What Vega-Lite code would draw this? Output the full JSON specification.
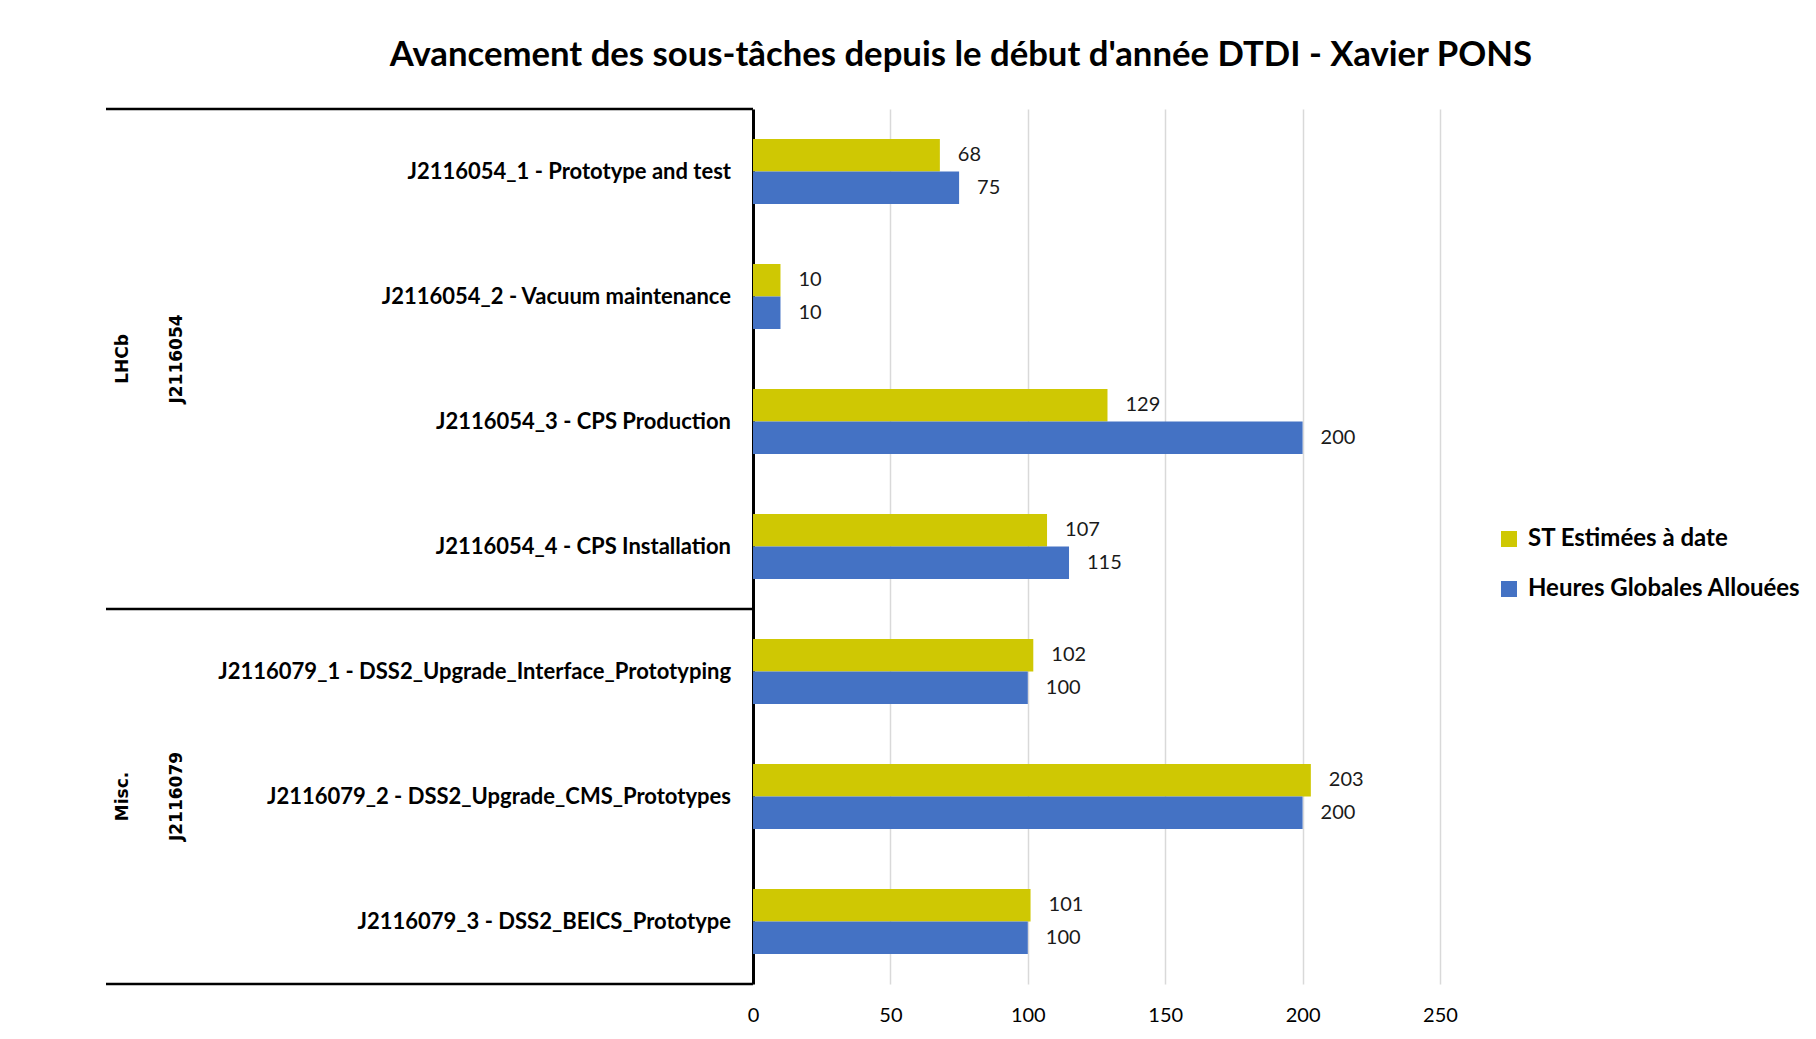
{
  "$schema": "https://vega.github.io/schema/vega-lite/v6.json",
  "padding": {"left": 104, "top": 38, "right": 0, "bottom": 0},
  "bounds": "flush",
  "spacing": 0,
  "title": {
    "text": "Avancement des sous-tâches depuis le début d'année DTDI - Xavier PONS",
    "font": "Lato",
    "fontSize": 34.7,
    "fontWeight": "bold",
    "color": "#000000",
    "anchor": "middle",
    "dx": 8,
    "offset": 34
  },
  "datasets": {
    "barres": [
      {"tache": "J2116054_1 - Prototype and test", "serie": "ST Estimées à date", "heures": 68},
      {"tache": "J2116054_1 - Prototype and test", "serie": "Heures Globales Allouées", "heures": 75},
      {"tache": "J2116054_2 - Vacuum maintenance", "serie": "ST Estimées à date", "heures": 10},
      {"tache": "J2116054_2 - Vacuum maintenance", "serie": "Heures Globales Allouées", "heures": 10},
      {"tache": "J2116054_3 - CPS Production", "serie": "ST Estimées à date", "heures": 129},
      {"tache": "J2116054_3 - CPS Production", "serie": "Heures Globales Allouées", "heures": 200},
      {"tache": "J2116054_4 - CPS Installation", "serie": "ST Estimées à date", "heures": 107},
      {"tache": "J2116054_4 - CPS Installation", "serie": "Heures Globales Allouées", "heures": 115},
      {"tache": "J2116079_1 - DSS2_Upgrade_Interface_Prototyping", "serie": "ST Estimées à date", "heures": 102},
      {"tache": "J2116079_1 - DSS2_Upgrade_Interface_Prototyping", "serie": "Heures Globales Allouées", "heures": 100},
      {"tache": "J2116079_2 - DSS2_Upgrade_CMS_Prototypes", "serie": "ST Estimées à date", "heures": 203},
      {"tache": "J2116079_2 - DSS2_Upgrade_CMS_Prototypes", "serie": "Heures Globales Allouées", "heures": 200},
      {"tache": "J2116079_3 - DSS2_BEICS_Prototype", "serie": "ST Estimées à date", "heures": 101},
      {"tache": "J2116079_3 - DSS2_BEICS_Prototype", "serie": "Heures Globales Allouées", "heures": 100}
    ],
    "taches": [
      {"tache": "J2116054_1 - Prototype and test", "groupe": "LHCb", "projet": "J2116054"},
      {"tache": "J2116054_2 - Vacuum maintenance", "groupe": "LHCb", "projet": "J2116054"},
      {"tache": "J2116054_3 - CPS Production", "groupe": "LHCb", "projet": "J2116054"},
      {"tache": "J2116054_4 - CPS Installation", "groupe": "LHCb", "projet": "J2116054"},
      {"tache": "J2116079_1 - DSS2_Upgrade_Interface_Prototyping", "groupe": "Misc.", "projet": "J2116079"},
      {"tache": "J2116079_2 - DSS2_Upgrade_CMS_Prototypes", "groupe": "Misc.", "projet": "J2116079"},
      {"tache": "J2116079_3 - DSS2_BEICS_Prototype", "groupe": "Misc.", "projet": "J2116079"}
    ]
  },
  "resolve": {"scale": {"y": "shared"}},
  "hconcat": [
    {
      "width": 34,
      "height": 875,
      "data": {"name": "taches"},
      "layer": [
        {
          "transform": [{"filter": {"field": "tache", "oneOf": ["J2116054_1 - Prototype and test"]}}],
          "mark": {"type": "rule", "color": "#000000", "strokeWidth": 2.5},
          "encoding": {"y": {"field": "tache", "type": "nominal", "sort": ["J2116054_1 - Prototype and test", "J2116054_2 - Vacuum maintenance", "J2116054_3 - CPS Production", "J2116054_4 - CPS Installation", "J2116079_1 - DSS2_Upgrade_Interface_Prototyping", "J2116079_2 - DSS2_Upgrade_CMS_Prototypes", "J2116079_3 - DSS2_BEICS_Prototype"], "bandPosition": 0, "axis": null, "scale": {"paddingInner": 0, "paddingOuter": 0}}}
        },
        {
          "transform": [{"filter": {"field": "tache", "oneOf": ["J2116054_4 - CPS Installation", "J2116079_3 - DSS2_BEICS_Prototype"]}}],
          "mark": {"type": "rule", "color": "#000000", "strokeWidth": 2.5},
          "encoding": {"y": {"field": "tache", "type": "nominal", "sort": ["J2116054_1 - Prototype and test", "J2116054_2 - Vacuum maintenance", "J2116054_3 - CPS Production", "J2116054_4 - CPS Installation", "J2116079_1 - DSS2_Upgrade_Interface_Prototyping", "J2116079_2 - DSS2_Upgrade_CMS_Prototypes", "J2116079_3 - DSS2_BEICS_Prototype"], "bandPosition": 1, "axis": null}}
        },
        {
          "transform": [{"filter": {"field": "tache", "oneOf": ["J2116054_2 - Vacuum maintenance"]}}],
          "mark": {"type": "text", "angle": 270, "font": "DejaVu Sans", "fontWeight": "bold", "fontSize": 17, "align": "center", "baseline": "middle", "color": "#000000"},
          "encoding": {"y": {"field": "tache", "type": "nominal", "sort": ["J2116054_1 - Prototype and test", "J2116054_2 - Vacuum maintenance", "J2116054_3 - CPS Production", "J2116054_4 - CPS Installation", "J2116079_1 - DSS2_Upgrade_Interface_Prototyping", "J2116079_2 - DSS2_Upgrade_CMS_Prototypes", "J2116079_3 - DSS2_BEICS_Prototype"], "bandPosition": 1, "axis": null}, "text": {"field": "groupe"}}
        },
        {
          "transform": [{"filter": {"field": "tache", "oneOf": ["J2116079_2 - DSS2_Upgrade_CMS_Prototypes"]}}],
          "mark": {"type": "text", "angle": 270, "font": "DejaVu Sans", "fontWeight": "bold", "fontSize": 17, "align": "center", "baseline": "middle", "color": "#000000"},
          "encoding": {"y": {"field": "tache", "type": "nominal", "sort": ["J2116054_1 - Prototype and test", "J2116054_2 - Vacuum maintenance", "J2116054_3 - CPS Production", "J2116054_4 - CPS Installation", "J2116079_1 - DSS2_Upgrade_Interface_Prototyping", "J2116079_2 - DSS2_Upgrade_CMS_Prototypes", "J2116079_3 - DSS2_BEICS_Prototype"], "bandPosition": 0.5, "axis": null}, "text": {"field": "groupe"}}
        }
      ]
    },
    {
      "width": 74,
      "height": 875,
      "data": {"name": "taches"},
      "layer": [
        {
          "transform": [{"filter": {"field": "tache", "oneOf": ["J2116054_1 - Prototype and test"]}}],
          "mark": {"type": "rule", "color": "#000000", "strokeWidth": 2.5},
          "encoding": {"y": {"field": "tache", "type": "nominal", "sort": ["J2116054_1 - Prototype and test", "J2116054_2 - Vacuum maintenance", "J2116054_3 - CPS Production", "J2116054_4 - CPS Installation", "J2116079_1 - DSS2_Upgrade_Interface_Prototyping", "J2116079_2 - DSS2_Upgrade_CMS_Prototypes", "J2116079_3 - DSS2_BEICS_Prototype"], "bandPosition": 0, "axis": null}}
        },
        {
          "transform": [{"filter": {"field": "tache", "oneOf": ["J2116054_4 - CPS Installation", "J2116079_3 - DSS2_BEICS_Prototype"]}}],
          "mark": {"type": "rule", "color": "#000000", "strokeWidth": 2.5},
          "encoding": {"y": {"field": "tache", "type": "nominal", "sort": ["J2116054_1 - Prototype and test", "J2116054_2 - Vacuum maintenance", "J2116054_3 - CPS Production", "J2116054_4 - CPS Installation", "J2116079_1 - DSS2_Upgrade_Interface_Prototyping", "J2116079_2 - DSS2_Upgrade_CMS_Prototypes", "J2116079_3 - DSS2_BEICS_Prototype"], "bandPosition": 1, "axis": null}}
        },
        {
          "transform": [{"filter": {"field": "tache", "oneOf": ["J2116054_2 - Vacuum maintenance"]}}],
          "mark": {"type": "text", "angle": 270, "font": "DejaVu Sans", "fontWeight": "bold", "fontSize": 17, "align": "center", "baseline": "middle", "color": "#000000"},
          "encoding": {"y": {"field": "tache", "type": "nominal", "sort": ["J2116054_1 - Prototype and test", "J2116054_2 - Vacuum maintenance", "J2116054_3 - CPS Production", "J2116054_4 - CPS Installation", "J2116079_1 - DSS2_Upgrade_Interface_Prototyping", "J2116079_2 - DSS2_Upgrade_CMS_Prototypes", "J2116079_3 - DSS2_BEICS_Prototype"], "bandPosition": 1, "axis": null}, "text": {"field": "projet"}}
        },
        {
          "transform": [{"filter": {"field": "tache", "oneOf": ["J2116079_2 - DSS2_Upgrade_CMS_Prototypes"]}}],
          "mark": {"type": "text", "angle": 270, "font": "DejaVu Sans", "fontWeight": "bold", "fontSize": 17, "align": "center", "baseline": "middle", "color": "#000000"},
          "encoding": {"y": {"field": "tache", "type": "nominal", "sort": ["J2116054_1 - Prototype and test", "J2116054_2 - Vacuum maintenance", "J2116054_3 - CPS Production", "J2116054_4 - CPS Installation", "J2116079_1 - DSS2_Upgrade_Interface_Prototyping", "J2116079_2 - DSS2_Upgrade_CMS_Prototypes", "J2116079_3 - DSS2_BEICS_Prototype"], "bandPosition": 0.5, "axis": null}, "text": {"field": "projet"}}
        }
      ]
    },
    {
      "width": 539,
      "height": 875,
      "data": {"name": "taches"},
      "layer": [
        {
          "transform": [{"filter": {"field": "tache", "oneOf": ["J2116054_1 - Prototype and test"]}}],
          "mark": {"type": "rule", "color": "#000000", "strokeWidth": 2.5},
          "encoding": {"y": {"field": "tache", "type": "nominal", "sort": ["J2116054_1 - Prototype and test", "J2116054_2 - Vacuum maintenance", "J2116054_3 - CPS Production", "J2116054_4 - CPS Installation", "J2116079_1 - DSS2_Upgrade_Interface_Prototyping", "J2116079_2 - DSS2_Upgrade_CMS_Prototypes", "J2116079_3 - DSS2_BEICS_Prototype"], "bandPosition": 0, "axis": null}}
        },
        {
          "transform": [{"filter": {"field": "tache", "oneOf": ["J2116054_4 - CPS Installation", "J2116079_3 - DSS2_BEICS_Prototype"]}}],
          "mark": {"type": "rule", "color": "#000000", "strokeWidth": 2.5},
          "encoding": {"y": {"field": "tache", "type": "nominal", "sort": ["J2116054_1 - Prototype and test", "J2116054_2 - Vacuum maintenance", "J2116054_3 - CPS Production", "J2116054_4 - CPS Installation", "J2116079_1 - DSS2_Upgrade_Interface_Prototyping", "J2116079_2 - DSS2_Upgrade_CMS_Prototypes", "J2116079_3 - DSS2_BEICS_Prototype"], "bandPosition": 1, "axis": null}}
        },
        {
          "mark": {"type": "text", "font": "Lato", "fontWeight": "bold", "fontSize": 22, "align": "right", "baseline": "middle", "dx": -22, "color": "#000000"},
          "encoding": {"y": {"field": "tache", "type": "nominal", "sort": ["J2116054_1 - Prototype and test", "J2116054_2 - Vacuum maintenance", "J2116054_3 - CPS Production", "J2116054_4 - CPS Installation", "J2116079_1 - DSS2_Upgrade_Interface_Prototyping", "J2116079_2 - DSS2_Upgrade_CMS_Prototypes", "J2116079_3 - DSS2_BEICS_Prototype"], "axis": null}, "x": {"value": "width"}, "text": {"field": "tache"}}
        }
      ]
    },
    {
      "width": 687,
      "height": 875,
      "data": {"name": "barres"},
      "encoding": {
        "y": {"field": "tache", "type": "nominal", "sort": ["J2116054_1 - Prototype and test", "J2116054_2 - Vacuum maintenance", "J2116054_3 - CPS Production", "J2116054_4 - CPS Installation", "J2116079_1 - DSS2_Upgrade_Interface_Prototyping", "J2116079_2 - DSS2_Upgrade_CMS_Prototypes", "J2116079_3 - DSS2_BEICS_Prototype"], "axis": {"labels": false, "ticks": false, "title": null, "domain": true, "domainColor": "#000000", "domainWidth": 3}},
        "yOffset": {"field": "serie", "type": "nominal", "sort": ["ST Estimées à date", "Heures Globales Allouées"], "scale": {"paddingInner": 0, "paddingOuter": 0.923}},
        "x": {"field": "heures", "type": "quantitative", "scale": {"domain": [0, 250], "nice": false}, "axis": {"title": null, "values": [0, 50, 100, 150, 200, 250], "domain": false, "ticks": false, "grid": true, "gridColor": "#d9d9d9", "gridWidth": 1.5, "labelFlush": false, "labelFont": "Lato", "labelFontSize": 20, "labelColor": "#000000", "labelPadding": 21}}
      },
      "layer": [
        {
          "mark": {"type": "bar"},
          "encoding": {
            "color": {"field": "serie", "type": "nominal", "sort": ["ST Estimées à date", "Heures Globales Allouées"], "scale": {"domain": ["ST Estimées à date", "Heures Globales Allouées"], "range": ["#cfc803", "#4472c4"]},
              "legend": {"title": null, "orient": "none", "legendX": 1391, "legendY": 418, "symbolType": "square", "symbolSize": 256, "symbolStrokeWidth": 0, "labelFont": "Lato", "labelFontWeight": "bold", "labelFontSize": 24, "labelLimit": 0, "labelColor": "#000000", "labelOffset": 7, "rowPadding": 26, "padding": 0}}
          }
        },
        {
          "mark": {"type": "text", "align": "left", "baseline": "middle", "dx": 18, "font": "Lato", "fontSize": 20, "color": "#1a1a1a"},
          "encoding": {"text": {"field": "heures", "type": "quantitative"}}
        }
      ]
    }
  ],
  "config": {
    "view": {"stroke": null},
    "font": "Lato",
    "concat": {"spacing": 0}
  }
}
